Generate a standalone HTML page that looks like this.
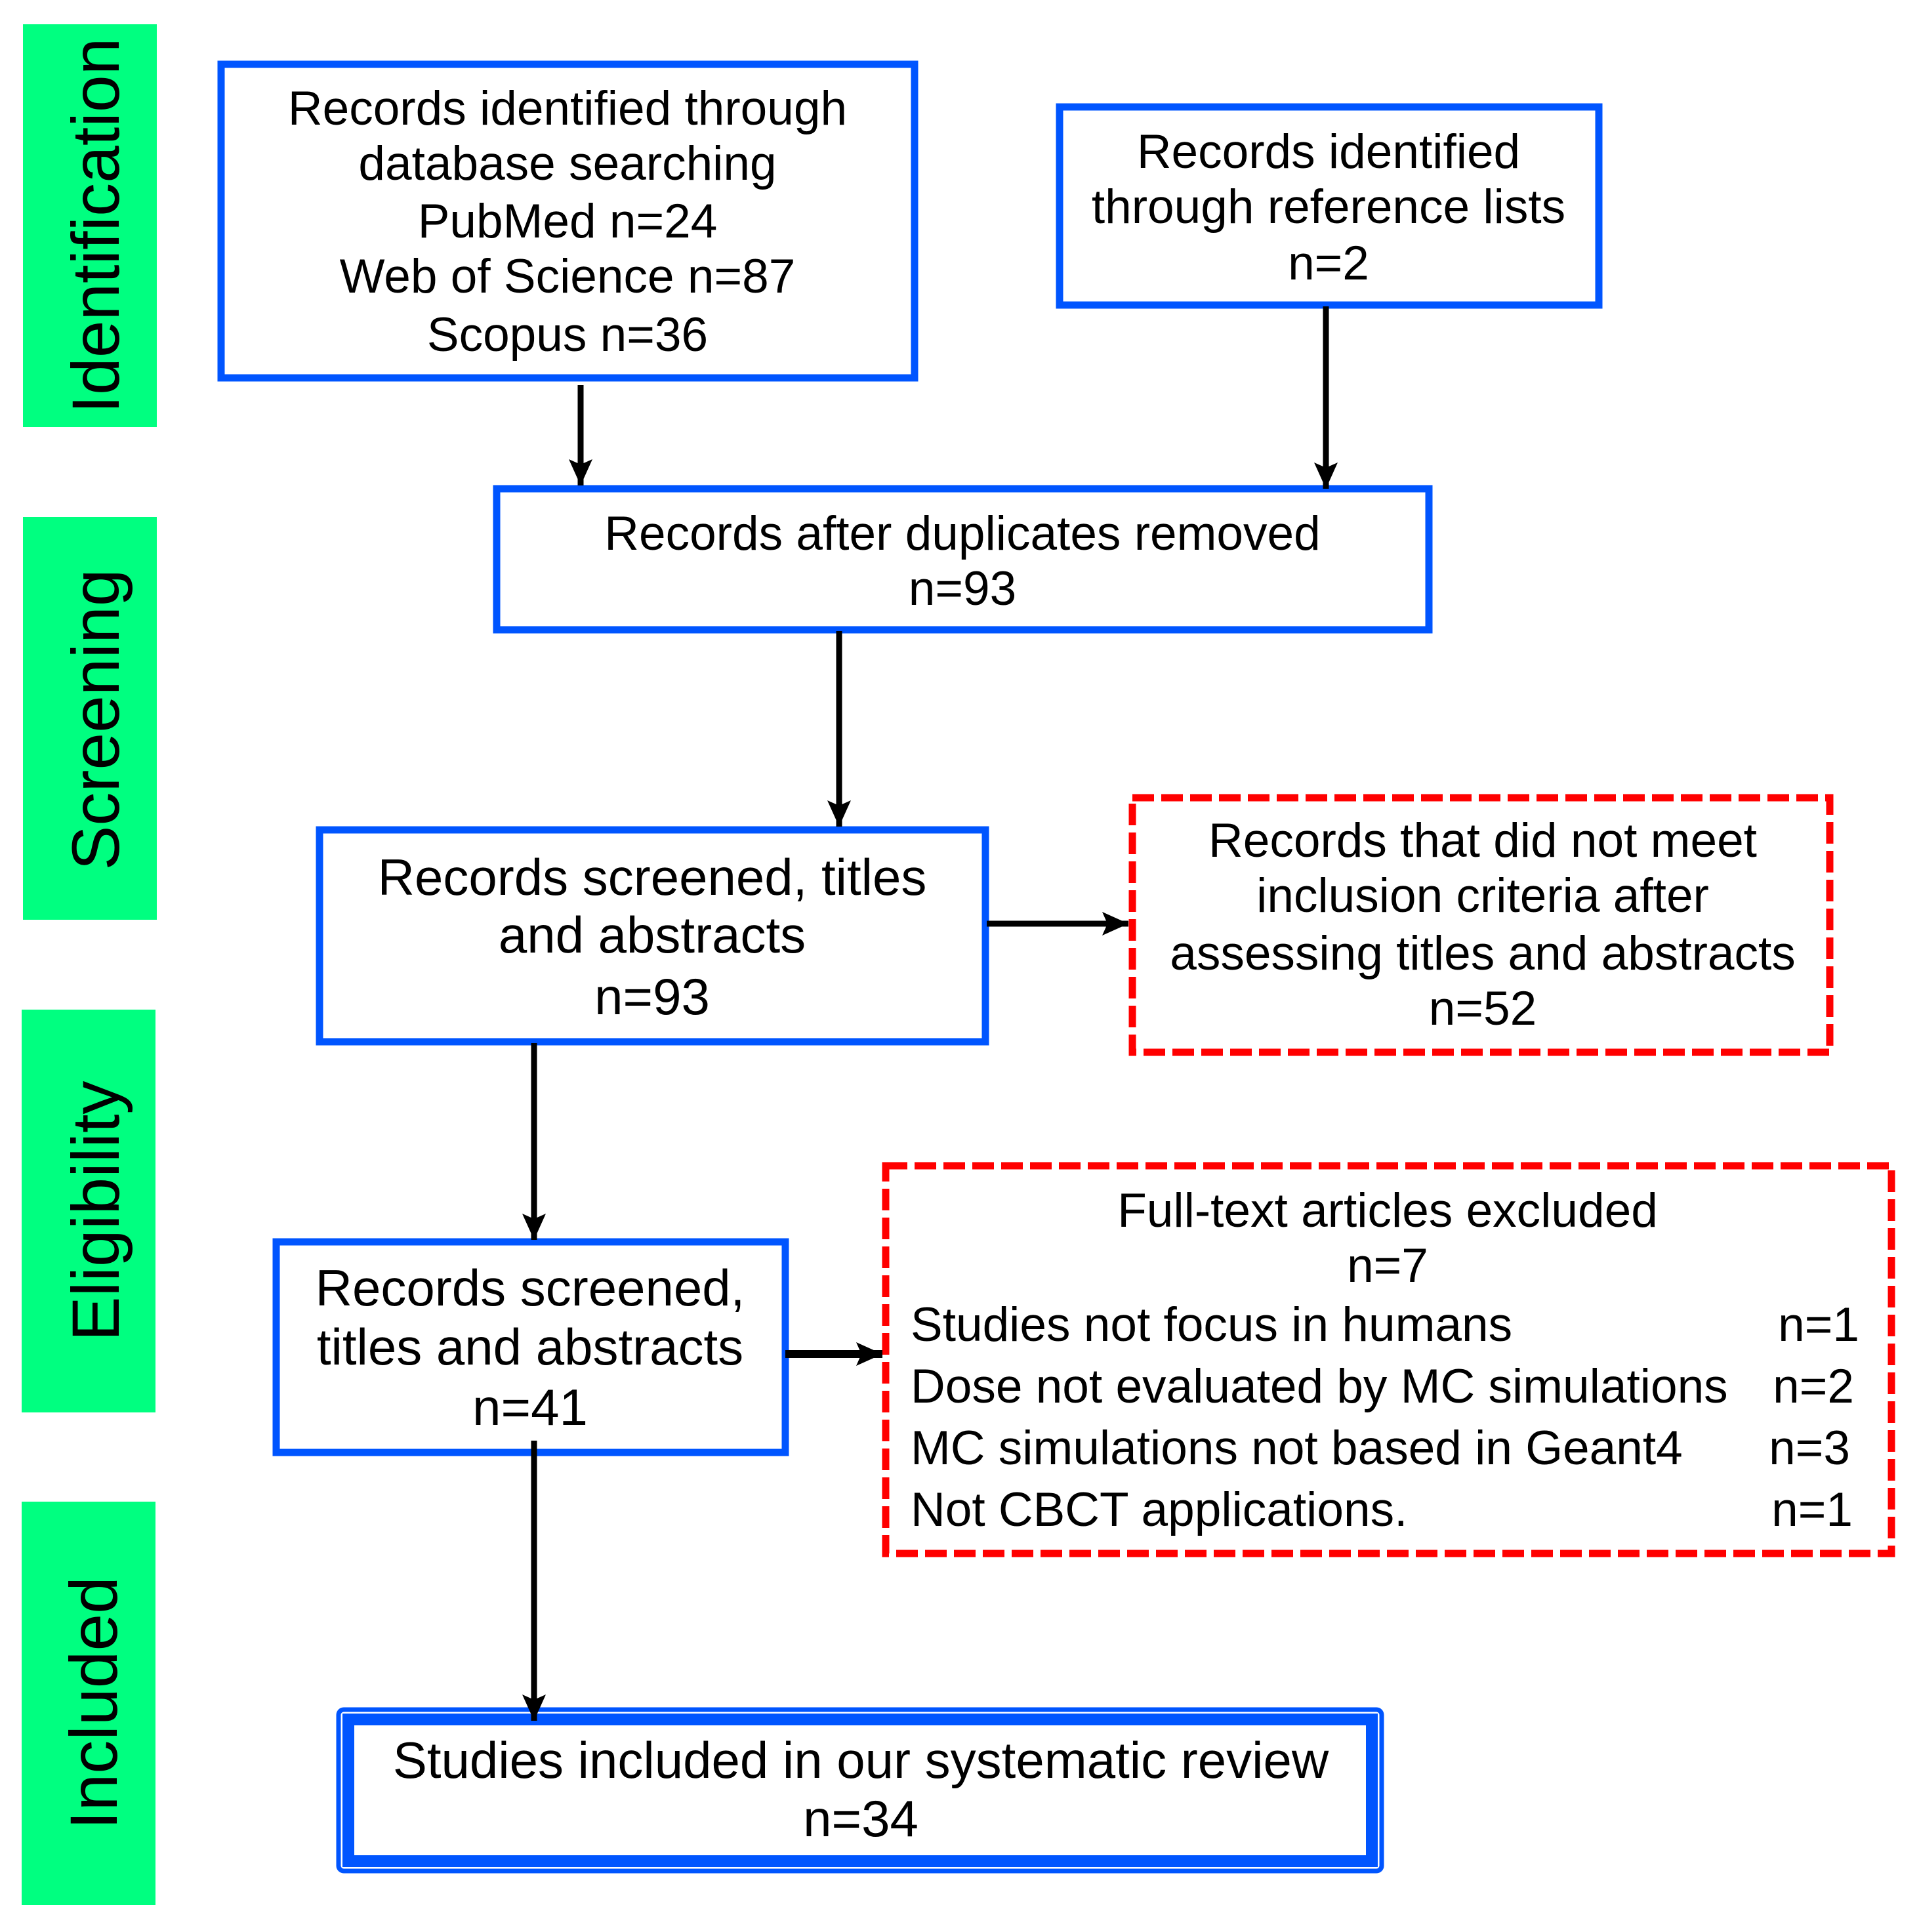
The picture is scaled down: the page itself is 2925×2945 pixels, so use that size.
<!DOCTYPE html>
<html><head><meta charset="utf-8"><style>html,body{margin:0;padding:0;background:#fff}svg{display:block}</style></head>
<body>
<svg width="2925" height="2945" viewBox="0 0 2925 2945" xmlns="http://www.w3.org/2000/svg" font-family="Liberation Sans, Arial, sans-serif">
<defs>
<marker id="ah" markerUnits="userSpaceOnUse" markerWidth="40" markerHeight="40" refX="40" refY="18" orient="auto">
<path d="M0,0 L40,18 L0,36 L8,18 Z" fill="#000"/>
</marker>
</defs>
<g fill="#00FF80">
<rect x="35" y="37" width="204" height="614"/>
<rect x="35" y="788" width="204" height="614"/>
<rect x="33" y="1539" width="204" height="614"/>
<rect x="33" y="2289" width="204" height="615"/>
</g>
<g font-size="102" fill="#000" text-anchor="middle">
<text transform="translate(181,344) rotate(-90)">Identification</text>
<text transform="translate(181,1097) rotate(-90)">Screening</text>
<text transform="translate(181,1846) rotate(-90)">Eligibility</text>
<text transform="translate(178,2596) rotate(-90)">Included</text>
</g>
<g fill="none" stroke="#0055FF" stroke-width="11">
<rect x="337" y="98" width="1057" height="478"/>
<rect x="1615" y="163" width="822" height="302"/>
<rect x="757" y="745" width="1421" height="215"/>
<rect x="487" y="1265" width="1015" height="323"/>
<rect x="421" y="1893" width="776" height="321"/>
<rect x="516" y="2606" width="1590" height="246" rx="8" stroke-width="7"/>
<rect x="531" y="2621" width="1560" height="216" stroke-width="18"/>
</g>
<g fill="none" stroke="#FF0000" stroke-width="11" stroke-dasharray="33,11">
<rect x="1726" y="1216" width="1063" height="388"/>
<rect x="1350" y="1777" width="1533" height="591"/>
</g>
<g stroke="#000" stroke-width="9" fill="none" marker-end="url(#ah)">
<line x1="885" y1="587" x2="885" y2="740"/>
<line x1="2021" y1="467" x2="2021" y2="745"/>
<line x1="1279" y1="962" x2="1279" y2="1260"/>
<line x1="1504" y1="1408" x2="1720" y2="1408"/>
<line x1="814" y1="1590" x2="814" y2="1890"/>
<line x1="1197" y1="2064" x2="1345" y2="2064" stroke-width="12"/>
<line x1="814" y1="2196" x2="814" y2="2623"/>
</g>
<g font-size="73" fill="#000" text-anchor="middle">
<text x="865" y="190">Records identified through</text>
<text x="865" y="274">database searching</text>
<text x="865" y="362">PubMed n=24</text>
<text x="865" y="446">Web of Science n=87</text>
<text x="865" y="535">Scopus n=36</text>
<text x="2025" y="256">Records identified</text>
<text x="2025" y="340">through reference lists</text>
<text x="2025" y="426">n=2</text>
<text x="1467" y="838">Records after duplicates removed</text>
<text x="1467" y="922">n=93</text>
<text x="2260" y="1306">Records that did not meet</text>
<text x="2260" y="1390">inclusion criteria after</text>
<text x="2260" y="1478">assessing titles and abstracts</text>
<text x="2260" y="1562">n=52</text>
<text x="2115" y="1870">Full-text articles excluded</text>
<text x="2115" y="1954">n=7</text>
</g>
<g font-size="78" fill="#000" text-anchor="middle">
<text x="994" y="1364">Records screened, titles</text>
<text x="994" y="1452">and abstracts</text>
<text x="994" y="1546">n=93</text>
<text x="808" y="1990">Records screened,</text>
<text x="808" y="2080">titles and abstracts</text>
<text x="808" y="2172">n=41</text>
<text x="1312" y="2710">Studies included in our systematic review</text>
<text x="1312" y="2799">n=34</text>
</g>
<g font-size="73" fill="#000">
<text x="1388" y="2044">Studies not focus in humans</text>
<text x="1388" y="2138">Dose not evaluated by MC simulations</text>
<text x="1388" y="2232">MC simulations not based in Geant4</text>
<text x="1388" y="2326">Not CBCT applications.</text>
</g>
<g font-size="73" fill="#000" text-anchor="end">
<text x="2834" y="2044">n=1</text>
<text x="2826" y="2138">n=2</text>
<text x="2820" y="2232">n=3</text>
<text x="2824" y="2326">n=1</text>
</g>
</svg>
</body></html>
